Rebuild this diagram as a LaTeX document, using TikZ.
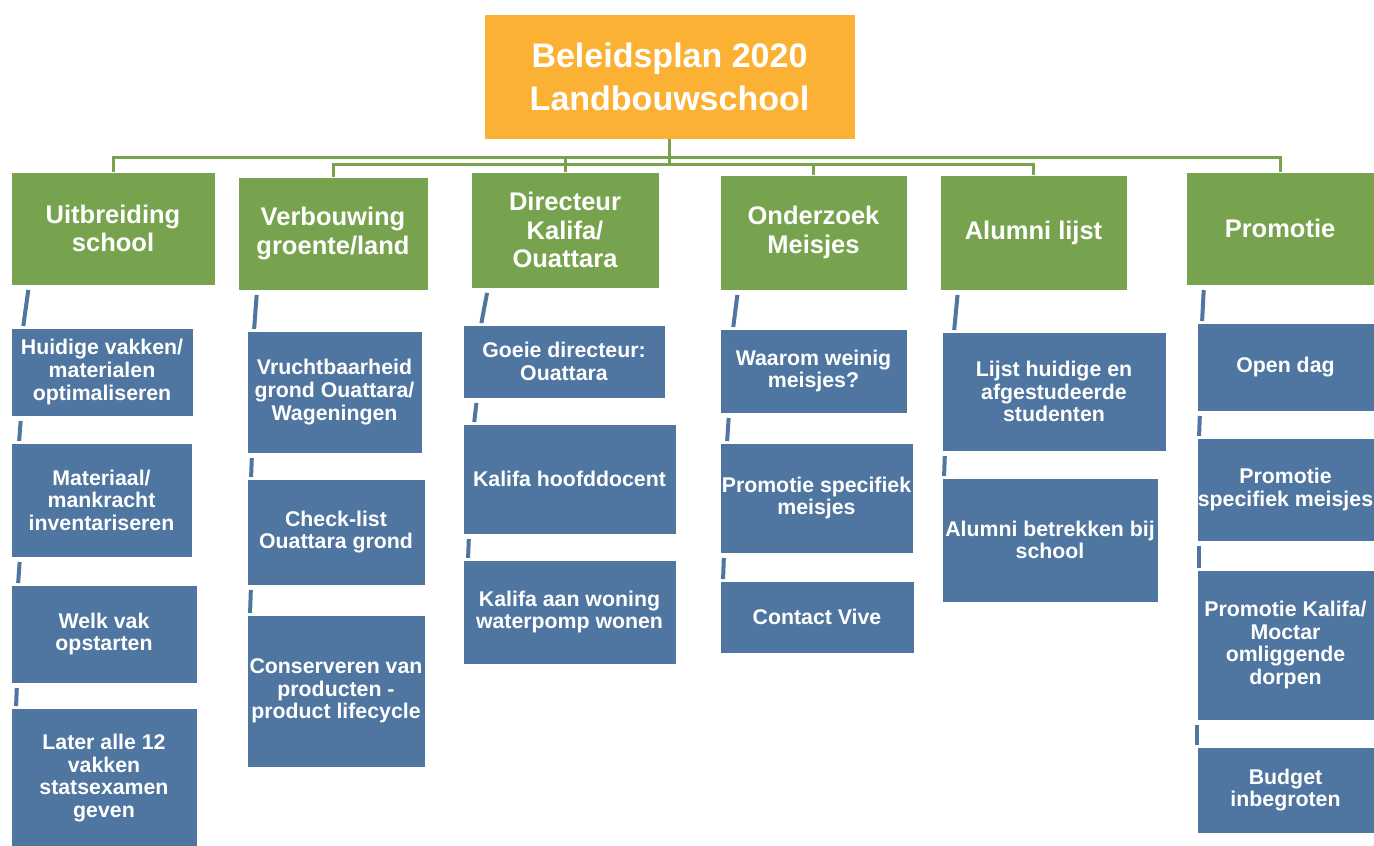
\documentclass[tikz,border=0pt]{standalone}
\usepackage{fontspec}
\setmainfont{Liberation Sans}
\usetikzlibrary{positioning, calc}
\definecolor{planorange}{HTML}{FBB133}
\definecolor{themegreen}{HTML}{78A34E}
\definecolor{taskblue}{HTML}{4F75A1}
\tikzstyle{plan} = [rectangle, anchor=north west, inner sep=0pt, outer sep=0pt, align=center, text=white, draw=white, line width=0.8pt, fill=planorange, font=\bfseries\fontsize{34}{43}\selectfont]
\tikzstyle{theme} = [rectangle, anchor=north west, inner sep=0pt, outer sep=0pt, align=center, text=white, draw=white, line width=0.8pt, fill=themegreen, font=\bfseries\fontsize{25.5}{28.5}\selectfont]
\tikzstyle{task} = [rectangle, anchor=north west, inner sep=0pt, outer sep=0pt, align=center, text=white, draw=white, line width=0.8pt, fill=taskblue, font=\bfseries\fontsize{21.3}{22.6}\selectfont]
\tikzstyle{line_tree} = [themegreen, line width=3pt]
\tikzstyle{line_stub} = [taskblue, line width=4pt, shorten <=5pt, shorten >=2pt]

\begin{document}
\begin{tikzpicture}[x=1pt, y=-1pt]

	\useasboundingbox [fill=white] (0,0) rectangle (1374,846);

		\node (plan) at (484,14) [plan, minimum width=371pt, minimum height=125pt] {Beleidsplan 2020\\Landbouwschool};

		% Themes
		\node (uitbreiding) at (11,172) [theme, minimum width=204pt, minimum height=113pt] {Uitbreiding\\school};
		\node (verbouwing) at (238,177) [theme, minimum width=190pt, minimum height=113pt] {Verbouwing\\groente/land};
		\node (directeur) at (471,172) [theme, minimum width=188pt, minimum height=116pt] {Directeur\\Kalifa/\\Ouattara};
		\node (onderzoek) at (720,175) [theme, minimum width=187pt, minimum height=115pt] {Onderzoek\\Meisjes};
		\node (alumni) at (940,175) [theme, minimum width=187pt, minimum height=115pt] {Alumni lijst};
		\node (promotie) at (1186,172) [theme, minimum width=188pt, minimum height=113pt] {Promotie};

		% Tasks under Uitbreiding school
		\node (huidige) at (11,328) [task, minimum width=182pt, minimum height=88pt] {Huidige vakken/\\materialen\\optimaliseren};
		\node (materiaal) at (11,443) [task, minimum width=181pt, minimum height=114pt] {Materiaal/\\mankracht\\inventariseren};
		\node (welkvak) at (11,585) [task, minimum width=186pt, minimum height=98pt] {Welk vak\\opstarten};
		\node (later) at (11,708) [task, minimum width=186pt, minimum height=140pt] {Later alle 12\\vakken\\statsexamen\\geven};

		% Tasks under Verbouwing groente/land
		\node (vruchtbaarheid) at (247,331) [task, minimum width=175pt, minimum height=122pt] {Vruchtbaarheid\\grond Ouattara/\\Wageningen};
		\node (checklist) at (247,479) [task, minimum width=178pt, minimum height=106pt] {Check-list\\Ouattara grond};
		\node (conserveren) at (247,615) [task, minimum width=178pt, minimum height=152pt] {Conserveren van\\producten -\\product lifecycle};

		% Tasks under Directeur
		\node (goeie) at (463,325) [task, minimum width=202pt, minimum height=73pt] {Goeie directeur:\\Ouattara};
		\node (hoofddocent) at (463,424) [task, minimum width=213pt, minimum height=110pt] {Kalifa hoofddocent};
		\node (waterpomp) at (463,560) [task, minimum width=213pt, minimum height=104pt] {Kalifa aan woning\\waterpomp wonen};

		% Tasks under Onderzoek Meisjes
		\node (waarom) at (720,329) [task, minimum width=187pt, minimum height=84pt] {Waarom weinig\\meisjes?};
		\node (promomeisjes) at (720,443) [task, minimum width=193pt, minimum height=110pt] {Promotie specifiek\\meisjes};
		\node (vive) at (720,581) [task, minimum width=194pt, minimum height=72pt] {Contact Vive};

		% Tasks under Alumni lijst
		\node (lijst) at (942,332) [task, minimum width=224pt, minimum height=119pt] {Lijst huidige en\\afgestudeerde\\studenten};
		\node (betrekken) at (942,478) [task, minimum width=216pt, minimum height=124pt] {Alumni betrekken bij\\school};

		% Tasks under Promotie
		\node (opendag) at (1197,323) [task, minimum width=177pt, minimum height=88pt] {Open dag};
		\node (specifiek) at (1197,438) [task, minimum width=177pt, minimum height=103pt] {Promotie\\specifiek meisjes};
		\node (dorpen) at (1197,570) [task, minimum width=177pt, minimum height=150pt] {Promotie Kalifa/\\Moctar\\omliggende\\dorpen};
		\node (budget) at (1197,747) [task, minimum width=177pt, minimum height=86pt] {Budget\\inbegroten};

		% Tree from the plan to the themes
		\draw [line_tree] (plan.south) -- ++(0,18) -| (uitbreiding.north);
		\draw [line_tree] (plan.south) -- ++(0,25) -| (verbouwing.north);
		\draw [line_tree] (plan.south) -- ++(0,18) -| (directeur.north);
		\draw [line_tree] (plan.south) -- ++(0,25) -| (onderzoek.north);
		\draw [line_tree] (plan.south) -- ++(0,25) -| (alumni.north);
		\draw [line_tree] (plan.south) -- ++(0,18) -| (promotie.north);

		% Short stubs between the stacked boxes
		\draw [line_stub] ([xshift=18pt]huidige.north west |- uitbreiding.south) -- ([xshift=12pt]huidige.north west);
		\draw [line_stub] ([xshift=10pt]materiaal.north west |- huidige.south) -- ([xshift=8pt]materiaal.north west);
		\draw [line_stub] ([xshift=9pt]welkvak.north west |- materiaal.south) -- ([xshift=7pt]welkvak.north west);
		\draw [line_stub] ([xshift=6pt]later.north west |- welkvak.south) -- ([xshift=5pt]later.north west);
		% -
		\draw [line_stub] ([xshift=10pt]vruchtbaarheid.north west |- verbouwing.south) -- ([xshift=7pt]vruchtbaarheid.north west);
		\draw [line_stub] ([xshift=5pt]checklist.north west |- vruchtbaarheid.south) -- ([xshift=4pt]checklist.north west);
		\draw [line_stub] ([xshift=4pt]conserveren.north west |- checklist.south) -- ([xshift=3pt]conserveren.north west);
		% -
		\draw [line_stub] ([xshift=25pt]goeie.north west |- directeur.south) -- ([xshift=18pt]goeie.north west);
		\draw [line_stub] ([xshift=14pt]hoofddocent.north west |- goeie.south) -- ([xshift=11pt]hoofddocent.north west);
		\draw [line_stub] ([xshift=6pt]waterpomp.north west |- hoofddocent.south) -- ([xshift=5pt]waterpomp.north west);
		% -
		\draw [line_stub] ([xshift=18pt]waarom.north west |- onderzoek.south) -- ([xshift=13pt]waarom.north west);
		\draw [line_stub] ([xshift=9pt]promomeisjes.north west |- waarom.south) -- ([xshift=7pt]promomeisjes.north west);
		\draw [line_stub] ([xshift=4pt]vive.north west |- promomeisjes.south) -- ([xshift=3pt]vive.north west);
		% -
		\draw [line_stub] ([xshift=16pt]lijst.north west |- alumni.south) -- ([xshift=12pt]lijst.north west);
		\draw [line_stub] ([xshift=3pt]betrekken.north west |- lijst.south) -- ([xshift=2pt]betrekken.north west);
		% -
		\draw [line_stub] ([xshift=7pt]opendag.north west |- promotie.south) -- ([xshift=5pt]opendag.north west);
		\draw [line_stub] ([xshift=3pt]specifiek.north west |- opendag.south) -- ([xshift=2pt]specifiek.north west);
		\draw [line_stub] ([xshift=2pt]dorpen.north west |- specifiek.south) -- ([xshift=2pt]dorpen.north west);
		\draw [line_stub] ([xshift=0pt]budget.north west |- dorpen.south) -- ([xshift=0pt]budget.north west);

	\end{tikzpicture}
\end{document}
